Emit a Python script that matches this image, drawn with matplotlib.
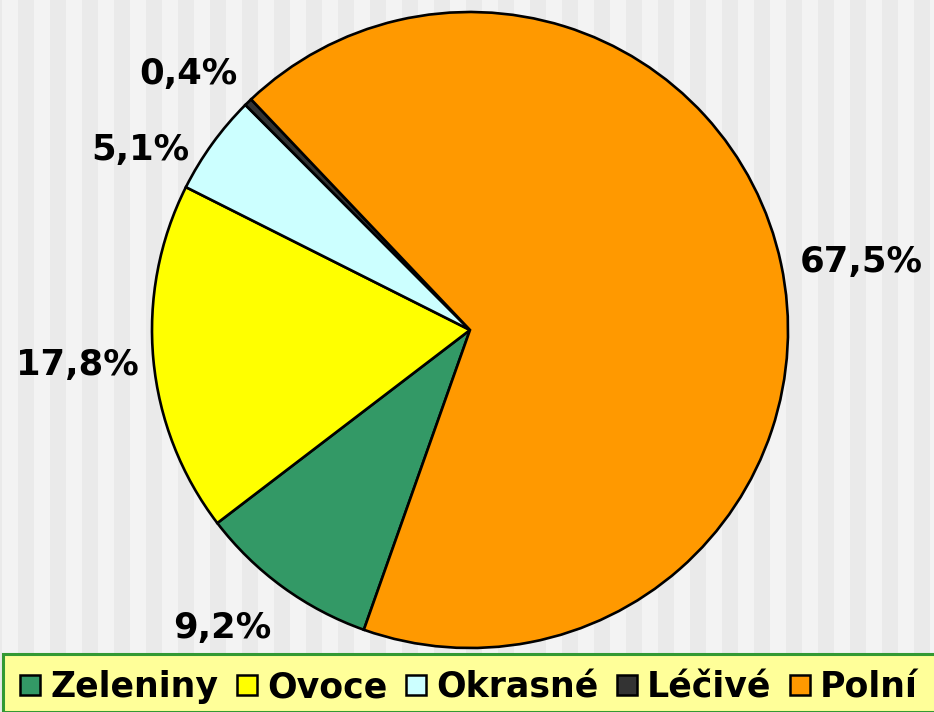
import matplotlib
matplotlib.use("Agg")
import numpy as np
import matplotlib.pyplot as plt
from matplotlib.patches import Rectangle
from matplotlib.lines import Line2D

categories = ["Zeleniny", "Ovoce", "Okrasné", "Léčivé", "Polní"]
values = [9.2, 17.8, 5.1, 0.4, 67.5]
colors = ["#339966", "#ffff00", "#ccffff", "#333333", "#ff9900"]

# label placement style (angle offset in degrees, radial distance)
label_angle_offset = [-3.7, -0.3, 7.2, 3.5, -2.2]
label_dist = [1.22, 1.238, 1.18, 1.198, 1.248]

W, H = 934, 712
fig = plt.figure(figsize=(W / 100, H / 100), dpi=100)
fig.patch.set_facecolor("#f3f3f3")

# striped background
for i in range(-14, W, 32):
    fig.patches.append(Rectangle((i / W, 0), 16 / W, 1, transform=fig.transFigure,
                                 facecolor="#eaeaea", edgecolor="none", zorder=-10))

cx, cy, r = 470, 330, 318
ax = fig.add_axes([(cx - r) / W, (H - cy - r) / H, 2 * r / W, 2 * r / H])
ax.set_facecolor("none")
ax.axis("off")

wedges, texts = ax.pie(
    values, colors=colors, startangle=-109.5, counterclock=False,
    wedgeprops=dict(edgecolor="black", linewidth=1.9),
)
ax.set_xlim(-1, 1)
ax.set_ylim(-1, 1)

for w, v, off, d in zip(wedges, values, label_angle_offset, label_dist):
    ang = np.deg2rad((w.theta1 + w.theta2) / 2 + off)
    ax.text(d * np.cos(ang), d * np.sin(ang), f"{v:.1f}%".replace(".", ","),
            ha="center", va="center", fontsize=25.5, fontweight="bold",
            family="DejaVu Sans", color="black", clip_on=False)

# legend box
fig.patches.append(Rectangle((3 / W, 0), 1, 58 / H, transform=fig.transFigure,
                             facecolor="#ffff99", edgecolor="#339933", linewidth=2.2, zorder=1))

handles = [Line2D([], [], marker="s", linestyle="none", markersize=14.5, markerfacecolor=c,
                  markeredgecolor="black", markeredgewidth=1.8) for c in colors]
leg = fig.legend(handles, categories, loc="center", bbox_to_anchor=(469 / W, 25 / H), ncol=5,
                 frameon=False, handlelength=0.58, handletextpad=0.3, columnspacing=0.52,
                 borderpad=0, borderaxespad=0,
                 prop=dict(family="DejaVu Sans", weight="bold", size=25))
leg.set_zorder(5)

fig.savefig("out.png", dpi=100)
